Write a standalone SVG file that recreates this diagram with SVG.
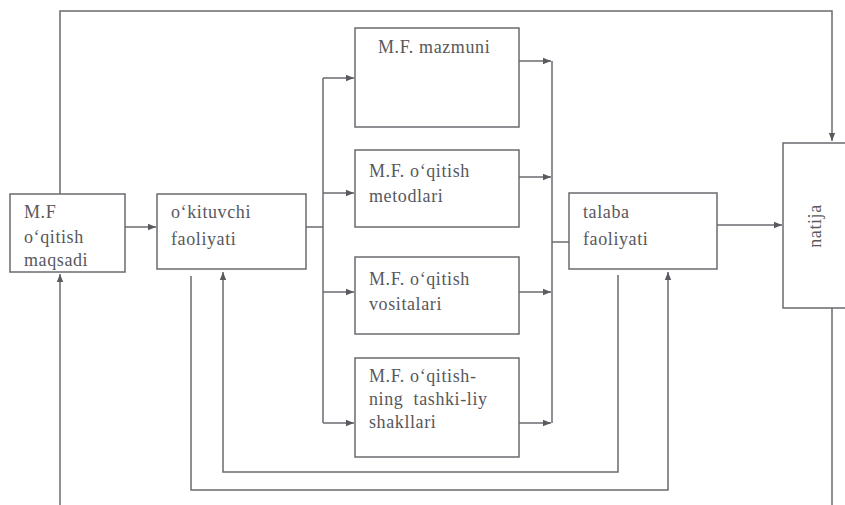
<svg xmlns="http://www.w3.org/2000/svg" width="845" height="505" viewBox="0 0 845 505">
<style>
.box{fill:#fff;stroke:#6a6a70;stroke-width:1.5}
.ln{fill:none;stroke:#6a6a70;stroke-width:1.5}
.t{font-family:"Liberation Serif","Times New Roman",serif;font-size:18px;fill:#58585c;letter-spacing:0.6px}
</style>
<defs>
<marker id="ah" viewBox="0 0 8 8" refX="8" refY="4" markerWidth="8" markerHeight="8" markerUnits="userSpaceOnUse" orient="auto">
<path d="M0,0.8 L8,4 L0,7.2 Z" fill="#5a5a60"/>
</marker>
</defs>
<rect width="845" height="505" fill="#fff"/>
<g id="connectors">
<path class="ln" d="M60,194 V11 H832 V141" marker-end="url(#ah)"/>
<path class="ln" d="M125,227 H156" marker-end="url(#ah)"/>
<path class="ln" d="M306,227 H323"/>
<path class="ln" d="M323,78 V423"/>
<path class="ln" d="M323,78 H354" marker-end="url(#ah)"/>
<path class="ln" d="M323,193 H354" marker-end="url(#ah)"/>
<path class="ln" d="M323,292 H354" marker-end="url(#ah)"/>
<path class="ln" d="M323,423 H354" marker-end="url(#ah)"/>
<path class="ln" d="M552,61 V423"/>
<path class="ln" d="M519,61 H551" marker-end="url(#ah)"/>
<path class="ln" d="M519,177 H551" marker-end="url(#ah)"/>
<path class="ln" d="M519,292 H551" marker-end="url(#ah)"/>
<path class="ln" d="M519,423 H551" marker-end="url(#ah)"/>
<path class="ln" d="M552,242 H569"/>
<path class="ln" d="M717,225 H782" marker-end="url(#ah)"/>
<path class="ln" d="M832,308 V505"/>
<path class="ln" d="M60,505 V274" marker-end="url(#ah)"/>
<path class="ln" d="M191,276 V490 H668 V272" marker-end="url(#ah)"/>
<path class="ln" d="M618,275 V472 H223 V272" marker-end="url(#ah)"/>
</g>
<g id="maqsadi">
<rect class="box" x="10" y="194" width="115" height="78"/>
<text class="t" x="24" y="218">M.F</text>
<text class="t" x="24" y="243">o‘qitish</text>
<text class="t" x="24" y="266">maqsadi</text>
</g>
<g id="oqituvchi">
<rect class="box" x="157" y="194" width="149" height="75"/>
<text class="t" x="171" y="218">o‘kituvchi</text>
<text class="t" x="171" y="245">faoliyati</text>
</g>
<g id="mazmuni">
<rect class="box" x="355" y="28" width="164" height="99"/>
<text class="t" x="378" y="53">M.F. mazmuni</text>
</g>
<g id="metodlari">
<rect class="box" x="355" y="150" width="164" height="77"/>
<text class="t" x="369" y="177">M.F. o‘qitish</text>
<text class="t" x="369" y="202">metodlari</text>
</g>
<g id="vositalari">
<rect class="box" x="355" y="257" width="164" height="77"/>
<text class="t" x="369" y="285">M.F. o‘qitish</text>
<text class="t" x="369" y="310">vositalari</text>
</g>
<g id="shakllari">
<rect class="box" x="355" y="358" width="164" height="99"/>
<text class="t" x="369" y="382">M.F. o‘qitish-</text>
<text class="t" x="369" y="405" xml:space="preserve">ning  tashki-liy</text>
<text class="t" x="369" y="428">shakllari</text>
</g>
<g id="talaba">
<rect class="box" x="569" y="193" width="148" height="76"/>
<text class="t" x="583" y="218">talaba</text>
<text class="t" x="583" y="245">faoliyati</text>
</g>
<g id="natija">
<rect class="box" x="783" y="143" width="70" height="165"/>
<text class="t" x="0" y="0" text-anchor="middle" transform="translate(821,226) rotate(-90)">natija</text>
</g>
</svg>
